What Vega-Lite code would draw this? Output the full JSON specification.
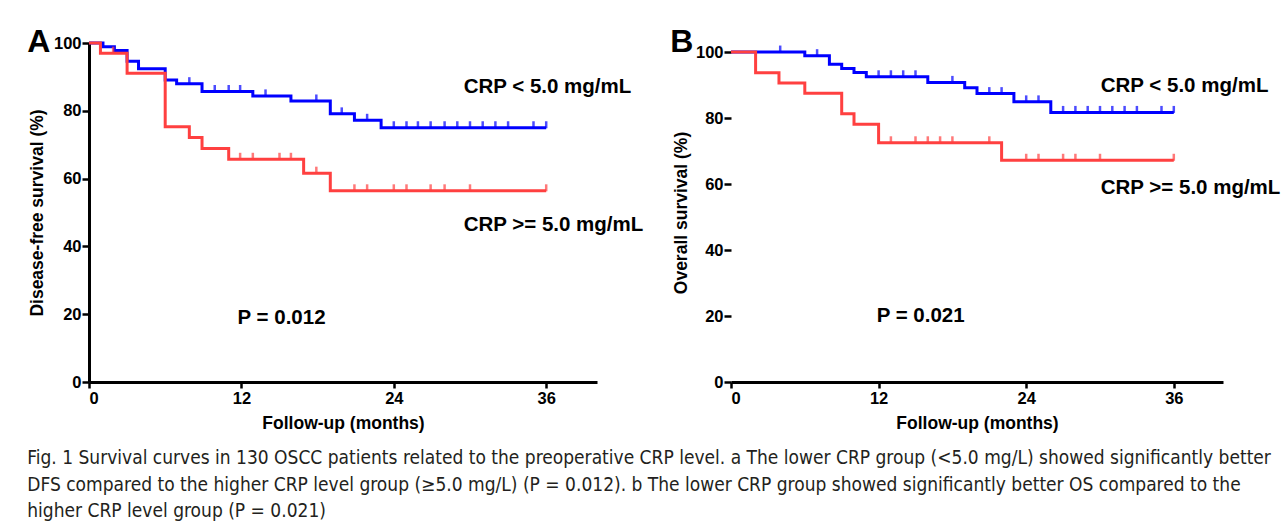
{
  "$schema": "https://vega.github.io/schema/vega-lite/v6.json",
  "padding": {"left": 27, "top": 25, "right": 5, "bottom": 5},
  "background": "white",
  "bounds": "flush",
  "spacing": 134,
  "config": {
    "view": {"stroke": null},
    "font": "Liberation Sans",
    "axis": {
      "grid": false,
      "domainColor": "black",
      "domainWidth": 3,
      "tickColor": "black",
      "tickWidth": 2.5,
      "labelColor": "black",
      "labelFont": "Liberation Sans",
      "labelFontWeight": "bold",
      "labelFontSize": 16.5,
      "titleColor": "black",
      "titleFont": "Liberation Sans",
      "titleFontWeight": "bold",
      "titleFontSize": 17.5
    }
  },
  "datasets": {
    "km": [
      {"panel": "A", "group": "low", "kind": "step", "t": 0, "s": 100},
      {"panel": "A", "group": "low", "kind": "step", "t": 1.1, "s": 98.9},
      {"panel": "A", "group": "low", "kind": "step", "t": 2, "s": 97.8},
      {"panel": "A", "group": "low", "kind": "step", "t": 3, "s": 94.6},
      {"panel": "A", "group": "low", "kind": "step", "t": 3.9, "s": 92.4},
      {"panel": "A", "group": "low", "kind": "step", "t": 6, "s": 89.1},
      {"panel": "A", "group": "low", "kind": "step", "t": 6.9, "s": 88},
      {"panel": "A", "group": "low", "kind": "step", "t": 8.9, "s": 85.7},
      {"panel": "A", "group": "low", "kind": "step", "t": 12.9, "s": 84.4},
      {"panel": "A", "group": "low", "kind": "step", "t": 15.9, "s": 82.9},
      {"panel": "A", "group": "low", "kind": "step", "t": 19, "s": 79.1},
      {"panel": "A", "group": "low", "kind": "step", "t": 20.9, "s": 77.2},
      {"panel": "A", "group": "low", "kind": "step", "t": 23, "s": 75},
      {"panel": "A", "group": "low", "kind": "step", "t": 36, "s": 75},
      {"panel": "A", "group": "low", "kind": "censor", "t": 7.9, "s": 88},
      {"panel": "A", "group": "low", "kind": "censor", "t": 9.9, "s": 85.7},
      {"panel": "A", "group": "low", "kind": "censor", "t": 11, "s": 85.7},
      {"panel": "A", "group": "low", "kind": "censor", "t": 11.9, "s": 85.7},
      {"panel": "A", "group": "low", "kind": "censor", "t": 13.9, "s": 84.4},
      {"panel": "A", "group": "low", "kind": "censor", "t": 17.9, "s": 82.9},
      {"panel": "A", "group": "low", "kind": "censor", "t": 19.9, "s": 79.1},
      {"panel": "A", "group": "low", "kind": "censor", "t": 21.9, "s": 77.2},
      {"panel": "A", "group": "low", "kind": "censor", "t": 24, "s": 75},
      {"panel": "A", "group": "low", "kind": "censor", "t": 25, "s": 75},
      {"panel": "A", "group": "low", "kind": "censor", "t": 25.9, "s": 75},
      {"panel": "A", "group": "low", "kind": "censor", "t": 26.9, "s": 75},
      {"panel": "A", "group": "low", "kind": "censor", "t": 28, "s": 75},
      {"panel": "A", "group": "low", "kind": "censor", "t": 29, "s": 75},
      {"panel": "A", "group": "low", "kind": "censor", "t": 30, "s": 75},
      {"panel": "A", "group": "low", "kind": "censor", "t": 31, "s": 75},
      {"panel": "A", "group": "low", "kind": "censor", "t": 32, "s": 75},
      {"panel": "A", "group": "low", "kind": "censor", "t": 33, "s": 75},
      {"panel": "A", "group": "low", "kind": "censor", "t": 35, "s": 75},
      {"panel": "A", "group": "low", "kind": "censor", "t": 36, "s": 75},
      {"panel": "A", "group": "high", "kind": "step", "t": 0, "s": 100},
      {"panel": "A", "group": "high", "kind": "step", "t": 0.9, "s": 97},
      {"panel": "A", "group": "high", "kind": "step", "t": 3, "s": 91.1},
      {"panel": "A", "group": "high", "kind": "step", "t": 6, "s": 75.3},
      {"panel": "A", "group": "high", "kind": "step", "t": 7.9, "s": 72.1},
      {"panel": "A", "group": "high", "kind": "step", "t": 8.9, "s": 68.9},
      {"panel": "A", "group": "high", "kind": "step", "t": 11, "s": 65.7},
      {"panel": "A", "group": "high", "kind": "step", "t": 16.9, "s": 61.6},
      {"panel": "A", "group": "high", "kind": "step", "t": 19, "s": 56.4},
      {"panel": "A", "group": "high", "kind": "step", "t": 36, "s": 56.4},
      {"panel": "A", "group": "high", "kind": "censor", "t": 1.9, "s": 97},
      {"panel": "A", "group": "high", "kind": "censor", "t": 11.9, "s": 65.7},
      {"panel": "A", "group": "high", "kind": "censor", "t": 12.9, "s": 65.7},
      {"panel": "A", "group": "high", "kind": "censor", "t": 15, "s": 65.7},
      {"panel": "A", "group": "high", "kind": "censor", "t": 15.9, "s": 65.7},
      {"panel": "A", "group": "high", "kind": "censor", "t": 17.9, "s": 61.6},
      {"panel": "A", "group": "high", "kind": "censor", "t": 20.9, "s": 56.4},
      {"panel": "A", "group": "high", "kind": "censor", "t": 21.9, "s": 56.4},
      {"panel": "A", "group": "high", "kind": "censor", "t": 24, "s": 56.4},
      {"panel": "A", "group": "high", "kind": "censor", "t": 25, "s": 56.4},
      {"panel": "A", "group": "high", "kind": "censor", "t": 26.9, "s": 56.4},
      {"panel": "A", "group": "high", "kind": "censor", "t": 28, "s": 56.4},
      {"panel": "A", "group": "high", "kind": "censor", "t": 30, "s": 56.4},
      {"panel": "A", "group": "high", "kind": "censor", "t": 36, "s": 56.4},
      {"panel": "B", "group": "low", "kind": "step", "t": 0, "s": 100},
      {"panel": "B", "group": "low", "kind": "step", "t": 6, "s": 98.9},
      {"panel": "B", "group": "low", "kind": "step", "t": 8, "s": 96.3},
      {"panel": "B", "group": "low", "kind": "step", "t": 9, "s": 95},
      {"panel": "B", "group": "low", "kind": "step", "t": 10, "s": 93.8},
      {"panel": "B", "group": "low", "kind": "step", "t": 11, "s": 92.5},
      {"panel": "B", "group": "low", "kind": "step", "t": 16, "s": 90.8},
      {"panel": "B", "group": "low", "kind": "step", "t": 19, "s": 89.2},
      {"panel": "B", "group": "low", "kind": "step", "t": 20, "s": 87.4},
      {"panel": "B", "group": "low", "kind": "step", "t": 23, "s": 84.9},
      {"panel": "B", "group": "low", "kind": "step", "t": 26, "s": 81.7},
      {"panel": "B", "group": "low", "kind": "step", "t": 36, "s": 81.7},
      {"panel": "B", "group": "low", "kind": "censor", "t": 4, "s": 100},
      {"panel": "B", "group": "low", "kind": "censor", "t": 7, "s": 98.9},
      {"panel": "B", "group": "low", "kind": "censor", "t": 12, "s": 92.5},
      {"panel": "B", "group": "low", "kind": "censor", "t": 13, "s": 92.5},
      {"panel": "B", "group": "low", "kind": "censor", "t": 14, "s": 92.5},
      {"panel": "B", "group": "low", "kind": "censor", "t": 15, "s": 92.5},
      {"panel": "B", "group": "low", "kind": "censor", "t": 18, "s": 90.8},
      {"panel": "B", "group": "low", "kind": "censor", "t": 21, "s": 87.4},
      {"panel": "B", "group": "low", "kind": "censor", "t": 22, "s": 87.4},
      {"panel": "B", "group": "low", "kind": "censor", "t": 24, "s": 84.9},
      {"panel": "B", "group": "low", "kind": "censor", "t": 25, "s": 84.9},
      {"panel": "B", "group": "low", "kind": "censor", "t": 27, "s": 81.7},
      {"panel": "B", "group": "low", "kind": "censor", "t": 28, "s": 81.7},
      {"panel": "B", "group": "low", "kind": "censor", "t": 29, "s": 81.7},
      {"panel": "B", "group": "low", "kind": "censor", "t": 30, "s": 81.7},
      {"panel": "B", "group": "low", "kind": "censor", "t": 31, "s": 81.7},
      {"panel": "B", "group": "low", "kind": "censor", "t": 32, "s": 81.7},
      {"panel": "B", "group": "low", "kind": "censor", "t": 33, "s": 81.7},
      {"panel": "B", "group": "low", "kind": "censor", "t": 35, "s": 81.7},
      {"panel": "B", "group": "low", "kind": "censor", "t": 36, "s": 81.7},
      {"panel": "B", "group": "high", "kind": "step", "t": 0, "s": 100},
      {"panel": "B", "group": "high", "kind": "step", "t": 2, "s": 93.7},
      {"panel": "B", "group": "high", "kind": "step", "t": 3.9, "s": 90.6},
      {"panel": "B", "group": "high", "kind": "step", "t": 6, "s": 87.5},
      {"panel": "B", "group": "high", "kind": "step", "t": 9, "s": 81.3},
      {"panel": "B", "group": "high", "kind": "step", "t": 10, "s": 78.1},
      {"panel": "B", "group": "high", "kind": "step", "t": 12, "s": 72.5},
      {"panel": "B", "group": "high", "kind": "step", "t": 22, "s": 67.2},
      {"panel": "B", "group": "high", "kind": "step", "t": 36, "s": 67.2},
      {"panel": "B", "group": "high", "kind": "censor", "t": 13, "s": 72.5},
      {"panel": "B", "group": "high", "kind": "censor", "t": 15, "s": 72.5},
      {"panel": "B", "group": "high", "kind": "censor", "t": 16, "s": 72.5},
      {"panel": "B", "group": "high", "kind": "censor", "t": 17, "s": 72.5},
      {"panel": "B", "group": "high", "kind": "censor", "t": 18, "s": 72.5},
      {"panel": "B", "group": "high", "kind": "censor", "t": 21, "s": 72.5},
      {"panel": "B", "group": "high", "kind": "censor", "t": 24, "s": 67.2},
      {"panel": "B", "group": "high", "kind": "censor", "t": 25, "s": 67.2},
      {"panel": "B", "group": "high", "kind": "censor", "t": 27, "s": 67.2},
      {"panel": "B", "group": "high", "kind": "censor", "t": 28, "s": 67.2},
      {"panel": "B", "group": "high", "kind": "censor", "t": 30, "s": 67.2},
      {"panel": "B", "group": "high", "kind": "censor", "t": 36, "s": 67.2}
    ],
    "labels": [
      {"panel": "A", "kind": "note", "t": 29.5, "s": 87, "label": "CRP < 5.0 mg/mL"},
      {"panel": "A", "kind": "note", "t": 29.5, "s": 46.3, "label": "CRP >= 5.0 mg/mL"},
      {"panel": "A", "kind": "note", "t": 11.7, "s": 18.9, "label": "P = 0.012"},
      {"panel": "A", "kind": "letter", "t": -3.95, "s": 100.3, "label": "A"},
      {"panel": "B", "kind": "note", "t": 30.06, "s": 89.7, "label": "CRP < 5.0 mg/mL"},
      {"panel": "B", "kind": "note", "t": 30.06, "s": 58.7, "label": "CRP >= 5.0 mg/mL"},
      {"panel": "B", "kind": "note", "t": 11.84, "s": 19.9, "label": "P = 0.021"},
      {"panel": "B", "kind": "letter", "t": -4.0, "s": 103.0, "label": "B"}
    ]
  },
  "title": {
    "text": [
      "Fig. 1 Survival curves in 130 OSCC patients related to the preoperative CRP level. a The lower CRP group (<5.0 mg/L) showed significantly better",
      "DFS compared to the higher CRP level group (≥5.0 mg/L) (P = 0.012). b The lower CRP group showed significantly better OS compared to the",
      "higher CRP level group (P = 0.021)"
    ],
    "orient": "bottom",
    "anchor": "start",
    "frame": "bounds",
    "font": "DejaVu Sans Condensed, Liberation Sans, sans-serif",
    "fontSize": 19,
    "fontWeight": "normal",
    "color": "#231f20",
    "lineHeight": 26.5,
    "offset": 17
  },
  "hconcat": [
    {
      "width": 508,
      "height": 339,
      "layer": [
        {
          "data": {"name": "km"},
          "transform": [{"filter": "datum.panel == 'A' && datum.kind == 'step'"}],
          "mark": {"type": "line", "interpolate": "step-after", "strokeWidth": 3},
          "encoding": {
            "x": {"field": "t", "type": "quantitative", "scale": {"domain": [0, 40], "nice": false},
                  "axis": {"values": [0, 12, 24, 36], "title": "Follow-up (months)", "tickSize": 6, "labelPadding": 2, "titlePadding": 8}},
            "y": {"field": "s", "type": "quantitative", "scale": {"domain": [0, 100], "nice": false},
                  "axis": {"values": [0, 20, 40, 60, 80, 100], "title": "Disease-free survival (%)", "tickSize": 7, "labelPadding": 1, "titlePadding": 7}},
            "color": {"field": "group", "type": "nominal", "scale": {"domain": ["low", "high"], "range": ["#0000ff", "#ff4040"]}, "legend": null}
          }
        },
        {
          "data": {"name": "km"},
          "transform": [{"filter": "datum.panel == 'A' && datum.kind == 'censor'"}],
          "mark": {"type": "tick", "orient": "vertical", "size": 7, "thickness": 2.5, "yOffset": -3},
          "encoding": {
            "x": {"field": "t", "type": "quantitative"},
            "y": {"field": "s", "type": "quantitative"},
            "color": {"field": "group", "type": "nominal", "legend": null}
          }
        },
        {
          "data": {"name": "labels"},
          "transform": [{"filter": "datum.panel == 'A' && datum.kind == 'note'"}],
          "mark": {"type": "text", "align": "left", "baseline": "middle", "fontWeight": "bold", "fontSize": 20.5, "color": "black"},
          "encoding": {
            "x": {"field": "t", "type": "quantitative"},
            "y": {"field": "s", "type": "quantitative"},
            "text": {"field": "label"}
          }
        },
        {
          "data": {"name": "labels"},
          "transform": [{"filter": "datum.panel == 'A' && datum.kind == 'letter'"}],
          "mark": {"type": "text", "align": "center", "baseline": "middle", "fontWeight": "bold", "fontSize": 32, "color": "black"},
          "encoding": {
            "x": {"field": "t", "type": "quantitative"},
            "y": {"field": "s", "type": "quantitative"},
            "text": {"field": "label"}
          }
        }
      ]
    },
    {
      "width": 492,
      "height": 339,
      "layer": [
        {
          "data": {"name": "km"},
          "transform": [{"filter": "datum.panel == 'B' && datum.kind == 'step'"}],
          "mark": {"type": "line", "interpolate": "step-after", "strokeWidth": 3},
          "encoding": {
            "x": {"field": "t", "type": "quantitative", "scale": {"domain": [0, 40], "nice": false},
                  "axis": {"values": [0, 12, 24, 36], "title": "Follow-up (months)", "tickSize": 6, "labelPadding": 2, "titlePadding": 8}},
            "y": {"field": "s", "type": "quantitative", "scale": {"domain": [0, 102.74], "nice": false},
                  "axis": {"values": [0, 20, 40, 60, 80, 100], "title": "Overall survival (%)", "domain": false, "tickSize": 7, "labelPadding": 1, "titlePadding": 5}},
            "color": {"field": "group", "type": "nominal", "scale": {"domain": ["low", "high"], "range": ["#0000ff", "#ff4040"]}, "legend": null}
          }
        },
        {
          "data": {"name": "km"},
          "transform": [{"filter": "datum.panel == 'B' && datum.kind == 'censor'"}],
          "mark": {"type": "tick", "orient": "vertical", "size": 7, "thickness": 2.5, "yOffset": -3},
          "encoding": {
            "x": {"field": "t", "type": "quantitative"},
            "y": {"field": "s", "type": "quantitative"},
            "color": {"field": "group", "type": "nominal", "legend": null}
          }
        },
        {
          "mark": {"type": "rule", "strokeWidth": 3, "color": "black"},
          "encoding": {
            "x": {"datum": 0, "type": "quantitative"},
            "y": {"datum": 0, "type": "quantitative"},
            "y2": {"datum": 100}
          }
        },
        {
          "data": {"name": "labels"},
          "transform": [{"filter": "datum.panel == 'B' && datum.kind == 'note'"}],
          "mark": {"type": "text", "align": "left", "baseline": "middle", "fontWeight": "bold", "fontSize": 20.5, "color": "black"},
          "encoding": {
            "x": {"field": "t", "type": "quantitative"},
            "y": {"field": "s", "type": "quantitative"},
            "text": {"field": "label"}
          }
        },
        {
          "data": {"name": "labels"},
          "transform": [{"filter": "datum.panel == 'B' && datum.kind == 'letter'"}],
          "mark": {"type": "text", "align": "center", "baseline": "middle", "fontWeight": "bold", "fontSize": 32, "color": "black"},
          "encoding": {
            "x": {"field": "t", "type": "quantitative"},
            "y": {"field": "s", "type": "quantitative"},
            "text": {"field": "label"}
          }
        }
      ]
    }
  ]
}
